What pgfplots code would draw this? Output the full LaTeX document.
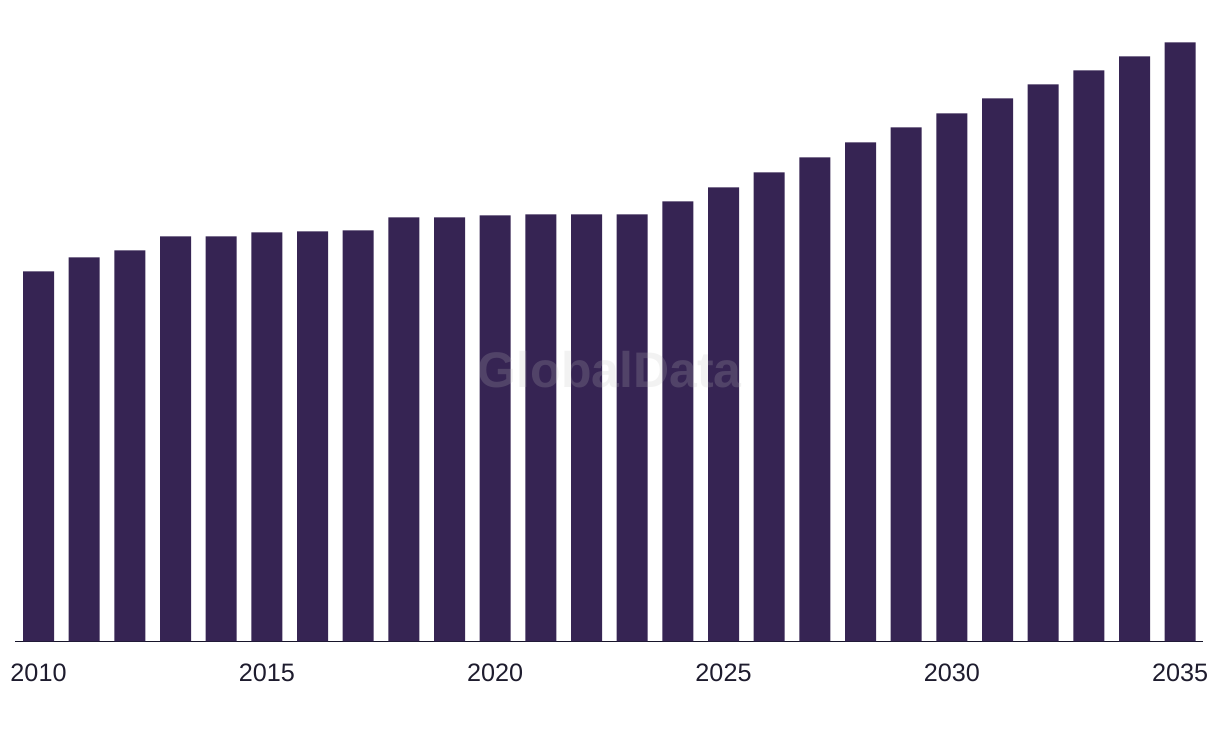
\documentclass[border=0pt]{standalone}
\usepackage{fontspec}
\setmainfont{Liberation Sans}
\usepackage{pgfplots}
\pgfplotsset{compat=1.18}
\definecolor{barc}{HTML}{362453}
\definecolor{axc}{HTML}{17152A}
\definecolor{lblc}{HTML}{1E1C2E}

\begin{document}
\begin{tikzpicture}
\path[use as bounding box] (0,0) rectangle (610pt,369pt);
\begin{axis}[
  at={(7.5pt,48.25pt)}, anchor=south west,
  scale only axis, width=594pt, height=320.75pt,
  xmin=2009.485, xmax=2035.5, ymin=0, ymax=641.5,
  ybar, bar width=15.5pt,
  hide y axis,
  axis x line*=bottom,
  x axis line style={-, draw=axc, line width=0.9pt},
  major tick length=0pt,
  xtick={2010,2015,2020,2025,2030,2035},
  xticklabels={2010,2015,2020,2025,2030,2035},
  xticklabel style={anchor=center, yshift=-15.5pt, text=lblc,
    font=\fontsize{12.6}{15}\selectfont},
  clip=false,
]
\addplot[fill=barc, draw=none] coordinates {
  (2010,370) (2011,384) (2012,391) (2013,405) (2014,405)
  (2015,409) (2016,410) (2017,411) (2018,424) (2019,424)
  (2020,426) (2021,427) (2022,427) (2023,427) (2024,440)
  (2025,454) (2026,469) (2027,484) (2028,499) (2029,514)
  (2030,528) (2031,543) (2032,557) (2033,571) (2034,585)
  (2035,599)
};
\node[text=gray!50, opacity=0.2, font=\fontsize{25}{30}\selectfont\bfseries]
  at (axis cs:2022.51,271.5) {GlobalData};
\end{axis}
\end{tikzpicture}
\end{document}
